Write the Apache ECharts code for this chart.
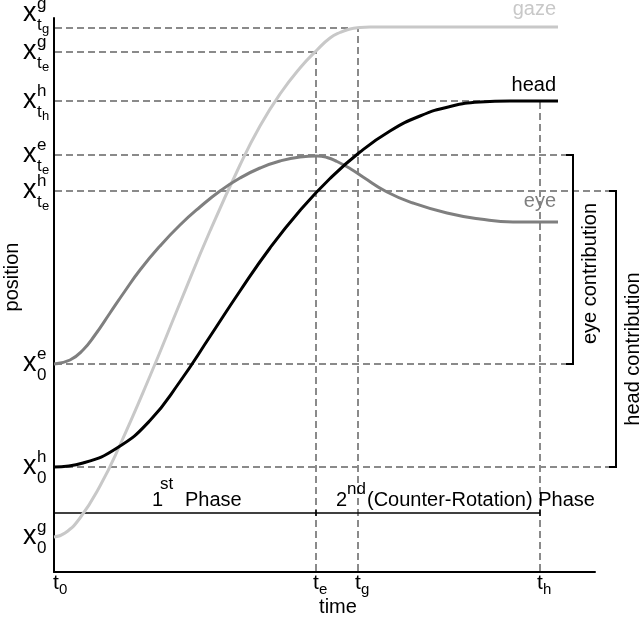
<!DOCTYPE html>
<html>
<head>
<meta charset="utf-8">
<script src="https://cdn.jsdelivr.net/npm/echarts@6/dist/echarts.min.js"></script>
<style>html,body{margin:0;padding:0;background:#fff}#c{width:640px;height:617px}</style>
</head>
<body>
<div id="c"></div>
<script>
// ---- data (arbitrary units) ----
const xMax = 541, yMax = 554;
const timeSubs = ['0', 'e', 'g', 'h'];
const timeValues = [0, 262, 304, 486];

const levelSup = ['g', 'g', 'h', 'e', 'h', 'e', 'h', 'g'];
const levelSub = ['t', 't', 't', 't', 't', '0', '0', '0'];
const levelSubSub = ['g', 'e', 'h', 'e', 'e', '', '', ''];
const levelValues = [544, 520, 471, 417, 381, 208, 105, 35];

const gazeX = [0, 11, 26, 46, 66, 96, 126, 156, 186, 206, 226, 246, 263, 276, 286, 296, 306, 316, 504];
const gazeY = [35, 39, 54, 86, 127, 196, 269, 341, 407, 446, 478, 504, 522, 534, 539.5, 543, 544.5, 545, 545];
const headX = [0, 29, 63, 96, 126, 156, 186, 216, 246, 276, 306, 336, 366, 396, 426, 456, 504];
const headY = [105, 109, 124, 151.5, 190.5, 235.5, 281, 324, 361.5, 393.5, 420, 441, 456, 465.5, 470, 471, 471];
const eyeX = [0, 16, 29, 41, 56, 71, 86, 106, 126, 146, 166, 186, 206, 226, 246, 263, 273, 283, 296, 309, 333, 359, 393, 426, 459, 504];
const eyeY = [208, 212, 222, 237, 259, 281, 302, 326, 347, 365, 381, 394, 404, 411, 415, 416, 414.5, 410.5, 403.5, 395, 380, 369, 359, 353, 350, 350];

const phaseY = 59;
const eyeBracketX = 519, headBracketX = 562;

// ---- styles ----
const FONT = '"Liberation Sans", Arial, Helvetica, sans-serif';
const C_GAZE = '#c8c8c8', C_EYE = '#7f7f7f', C_HEAD = '#000000', C_DASH = '#8a8a8a';

function pairs(xs, ys) { return xs.map((x, i) => [x, ys[i]]); }

function txt(text, x, y, size, color, align, rot) {
  return {
    type: 'text', x: x, y: y, rotation: rot || 0, silent: true,
    style: { text: text, x: 0, y: 0, fill: color || '#000', fontSize: size, fontFamily: FONT,
             align: align || 'left', verticalAlign: 'middle' }
  };
}
function seg(p1, p2, color, width, dash) {
  return {
    type: 'line', silent: true,
    shape: { x1: p1[0], y1: p1[1], x2: p2[0], y2: p2[1] },
    style: { stroke: color, lineWidth: width, lineDash: dash || null }
  };
}

function renderAnn(params, api) {
  const ch = [];
  const DASH = [7, 4];
  const te = timeValues[1], tg = timeValues[2], th = timeValues[3];
  const hEnds = [tg, te, th, eyeBracketX, headBracketX, eyeBracketX, headBracketX, null];
  // horizontal dashed lines
  levelValues.forEach((v, i) => {
    if (hEnds[i] === null) return;
    const a = api.coord([0, v]), b = api.coord([hEnds[i], v]);
    ch.push(seg([a[0] + 1, a[1]], [b[0] - (i >= 3 ? 7 : 0), b[1]], C_DASH, 2, DASH));
  });
  // vertical dashed lines
  const vTops = [levelValues[1], levelValues[0], levelValues[2]];
  [te, tg, th].forEach((t, i) => {
    const a = api.coord([t, 0]), b = api.coord([t, vTops[i]]);
    ch.push(seg([a[0], a[1] - 1], b, C_DASH, 2, DASH));
  });
  // brackets
  const br = [[eyeBracketX, levelValues[5], levelValues[3]], [headBracketX, levelValues[6], levelValues[4]]];
  br.forEach(b => {
    const lo = api.coord([b[0], b[1]]), hi = api.coord([b[0], b[2]]);
    ch.push(seg(lo, hi, '#000', 2));
    ch.push(seg([lo[0] - 7, lo[1]], [lo[0] + 1, lo[1]], '#000', 2));
    ch.push(seg([hi[0] - 7, hi[1]], [hi[0] + 1, hi[1]], '#000', 2));
  });
  const eb0 = api.coord([eyeBracketX, levelValues[5]]), eb1 = api.coord([eyeBracketX, levelValues[3]]);
  ch.push(txt('eye contribution', eb0[0] + 17, (eb0[1] + eb1[1]) / 2 + 14, 20, '#000', 'center', Math.PI / 2));
  const hb0 = api.coord([headBracketX, levelValues[6]]), hb1 = api.coord([headBracketX, levelValues[4]]);
  ch.push(txt('head contribution', hb0[0] + 17, (hb0[1] + hb1[1]) / 2 + 20, 20, '#000', 'center', Math.PI / 2));

  // phase line
  const p0 = api.coord([0, phaseY]), pe = api.coord([te, phaseY]), ph = api.coord([th, phaseY]);
  ch.push(seg(p0, ph, '#000', 1.5));
  [p0, pe, ph].forEach(p => ch.push(seg([p[0], p[1] - 3], [p[0], p[1] + 3], '#000', 1.5)));
  ch.push(txt('1', p0[0] + 98, p0[1] - 13, 20));
  ch.push(txt('st', p0[0] + 106, p0[1] - 29, 17));
  ch.push(txt('Phase', p0[0] + 131, p0[1] - 13, 20));
  ch.push(txt('2', pe[0] + 20, pe[1] - 13, 20));
  ch.push(txt('nd', pe[0] + 31, pe[1] - 24, 17));
  ch.push(txt('(Counter-Rotation) Phase', pe[0] + 51, pe[1] - 13, 20));

  // y level labels
  levelValues.forEach((v, i) => {
    const a = api.coord([0, v]);
    const x0 = a[0], y0 = a[1] + (i === 0 ? -14 : 0);
    ch.push(txt('x', x0 - 31, y0, 27));
    ch.push(txt(levelSup[i], x0 - 17, y0 - 10, 17));
    ch.push(txt(levelSub[i], x0 - 17, y0 + 11, 17));
    if (levelSubSub[i]) ch.push(txt(levelSubSub[i], x0 - 12, y0 + 15, 13));
  });
  // time labels
  timeValues.forEach((t, i) => {
    const a = api.coord([t, 0]);
    ch.push(txt('t', a[0] + (i === 0 ? 2 : 0), a[1] + 11, 21, '#000', 'center'));
    ch.push(txt(timeSubs[i], a[0] + (i === 0 ? 5 : 3), a[1] + 18, 15));
  });
  const tm = api.coord([(te + tg) / 2, 0]);
  ch.push(txt('time', tm[0] + 1, tm[1] + 35, 20, '#000', 'center'));
  const pm = api.coord([0, yMax / 2]);
  ch.push(txt('position', pm[0] - 42, pm[1] - 18, 20, '#000', 'center', Math.PI / 2));

  // curve end labels
  const g = api.coord([gazeX[gazeX.length - 1], gazeY[gazeY.length - 1]]);
  ch.push(txt('gaze', g[0] - 2, g[1] - 18, 20, C_GAZE, 'right'));
  const h = api.coord([headX[headX.length - 1], headY[headY.length - 1]]);
  ch.push(txt('head', h[0] - 2, h[1] - 16, 20, '#000', 'right'));
  const e = api.coord([eyeX[eyeX.length - 1], eyeY[eyeY.length - 1]]);
  ch.push(txt('eye', e[0] - 2, e[1] - 21, 20, C_EYE, 'right'));

  return { type: 'group', children: ch };
}

const chart = echarts.init(document.getElementById('c'), null, { renderer: 'canvas' });
const axisCommon = {
  type: 'value', min: 0, axisLabel: { show: false }, axisTick: { show: false },
  splitLine: { show: false }, axisLine: { show: true, onZero: false, lineStyle: { color: '#000', width: 2 } }
};
chart.setOption({
  animation: false,
  backgroundColor: '#fff',
  grid: { left: 54, right: 45, top: 18, bottom: 45, containLabel: false },
  xAxis: Object.assign({}, axisCommon, { max: xMax }),
  yAxis: Object.assign({}, axisCommon, { max: yMax }),
  series: [
    { type: 'custom', renderItem: renderAnn, data: [[0, 0]], silent: true, z: 1 },
    { name: 'gaze', type: 'line', data: pairs(gazeX, gazeY), smooth: 0.5, symbol: 'none',
      lineStyle: { color: C_GAZE, width: 3 }, z: 3 },
    { name: 'eye', type: 'line', data: pairs(eyeX, eyeY), smooth: 0.5, symbol: 'none',
      lineStyle: { color: C_EYE, width: 3 }, z: 3 },
    { name: 'head', type: 'line', data: pairs(headX, headY), smooth: 0.5, symbol: 'none',
      lineStyle: { color: C_HEAD, width: 3 }, z: 4 }
  ]
});
</script>
</body>
</html>
